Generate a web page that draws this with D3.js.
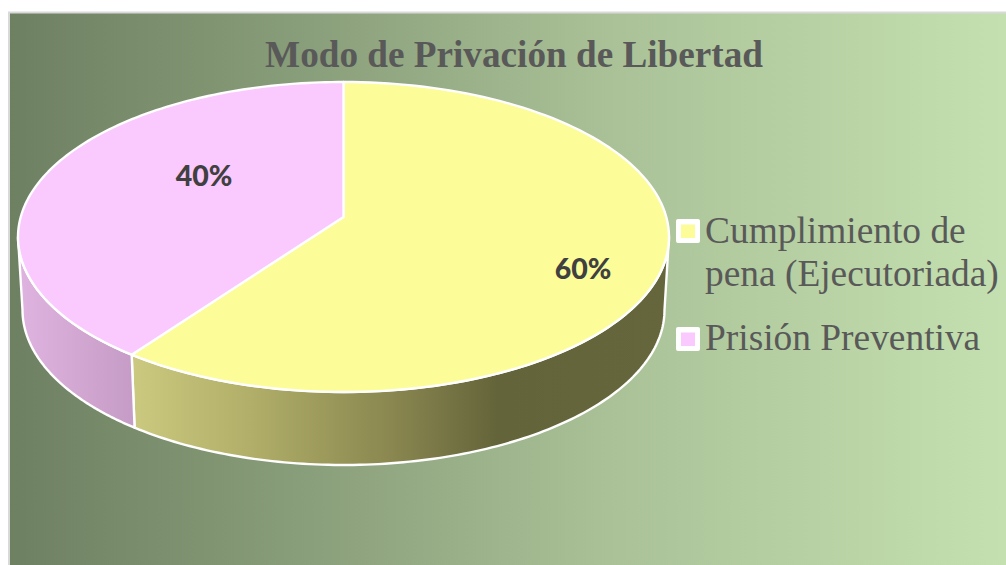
<!DOCTYPE html>
<html><head><meta charset="utf-8">
<script src="https://cdnjs.cloudflare.com/ajax/libs/d3/7.8.5/d3.min.js"></script>
<style>html,body{margin:0;padding:0;background:#fff;overflow:hidden}svg{display:block}</style>
</head><body><svg id="c" width="1006" height="565"></svg>
<script>
const categories = ["Cumplimiento de pena (Ejecutoriada)", "Prisión Preventiva"];
const seriesValues = [60, 40];
const valueLabels = ["60%", "40%"];
const chartTitle = "Modo de Privación de Libertad";
const legendLines = [["Cumplimiento de", "pena (Ejecutoriada)"], ["Prisión Preventiva"]];
const topColors = ["#fcfc99", "#fac9fd"];
const bgStops = [["0%", "#6e8062"], ["30%", "#899e7a"], ["60%", "#aac197"], ["100%", "#c4e0b0"]];

const svg = d3.select("#c");
const defs = svg.append("defs");
const grad = (id, x1, x2, stops) => {
  const g = defs.append("linearGradient").attr("id", id).attr("gradientUnits", "userSpaceOnUse")
    .attr("x1", x1).attr("x2", x2).attr("y1", 0).attr("y2", 0);
  stops.forEach(s => g.append("stop").attr("offset", s[0]).attr("stop-color", s[1]));
};
grad("bg", 10, 1006, bgStops);
grad("sideY", 135, 668, [["0%", "#cbc97f"], ["22%", "#b0ae68"], ["48%", "#8a8750"], ["68%", "#64643a"], ["100%", "#66663c"]]);
grad("sideP", 20, 135, [["0%", "#dfb3df"], ["100%", "#c59cc6"]]);

svg.append("rect").attr("x", 9).attr("y", 12.5).attr("width", 1000).attr("height", 560)
  .attr("fill", "url(#bg)").attr("stroke", "#d9d9d9").attr("stroke-width", 2);

const topE = {cx: 343.5, cy: 237, rx: 325.5, ry: 155};
const botE = {cx: 343.5, cy: 310, rx: 321, ry: 155};
const a = -0.129; // perspective shift of the pie centre on the ellipse
const proj = (th, e, r = 1) => {
  const u = r * Math.sin(th), v = -r * Math.cos(th), d = 1 + a * v;
  return [e.cx + e.rx * u * Math.sqrt(1 - a * a) / d, e.cy + e.ry * (v + a) / d];
};
const frontLo = Math.acos(a), frontHi = 2 * Math.PI - Math.acos(a);

const pie = d3.pie().sort(null)(seriesValues);
const line = d3.line();
const arcPts = (t0, t1, e) => d3.range(0, 121).map(i => proj(t0 + (t1 - t0) * i / 120, e));

const sideFills = ["url(#sideY)", "url(#sideP)"];
const gSide = svg.append("g");
pie.forEach((p, i) => {
  const s = Math.max(p.startAngle, frontLo), t = Math.min(p.endAngle, frontHi);
  if (t <= s) return;
  gSide.append("path")
    .attr("d", line(arcPts(s, t, topE).concat(arcPts(t, s, botE))) + "Z")
    .attr("fill", sideFills[i]).attr("stroke", "#fff").attr("stroke-width", 2.4).attr("stroke-linejoin", "round");
});
const gTop = svg.append("g");
pie.forEach((p, i) => {
  gTop.append("path")
    .attr("d", line([proj(0, topE, 0)].concat(arcPts(p.startAngle, p.endAngle, topE))) + "Z")
    .attr("fill", topColors[i]).attr("stroke", "#fff").attr("stroke-width", 2.4).attr("stroke-linejoin", "round");
});

const labelPos = [[583, 279], [204, 186]];
svg.append("g").selectAll("text").data(valueLabels).join("text")
  .attr("x", (d, i) => labelPos[i][0]).attr("y", (d, i) => labelPos[i][1])
  .attr("text-anchor", "middle").attr("font-family", "Lato, 'Open Sans', sans-serif")
  .attr("font-weight", 900).attr("font-size", 28.5).attr("fill", "#404040").text(d => d);

svg.append("text").attr("x", 514).attr("y", 67).attr("text-anchor", "middle")
  .attr("font-family", "'Liberation Serif', serif").attr("font-weight", 700).attr("font-size", 37.2)
  .attr("fill", "#595959").text(chartTitle);

const legendY = [[243, 286], [350]];
const keyY = [219, 327];
categories.forEach((c, i) => {
  const g = svg.append("g");
  g.append("rect").attr("x", 676).attr("y", keyY[i]).attr("width", 24).attr("height", 24).attr("rx", 2).attr("fill", "#fff");
  g.append("rect").attr("x", 681).attr("y", keyY[i] + 5.5).attr("width", 14).attr("height", 13.5).attr("fill", topColors[i]);
  legendLines[i].forEach((l, j) => g.append("text").attr("x", 705).attr("y", legendY[i][j])
    .attr("font-family", "'Liberation Serif', serif").attr("font-size", 37.4).attr("fill", "#595959").text(l));
});
</script></body></html>
